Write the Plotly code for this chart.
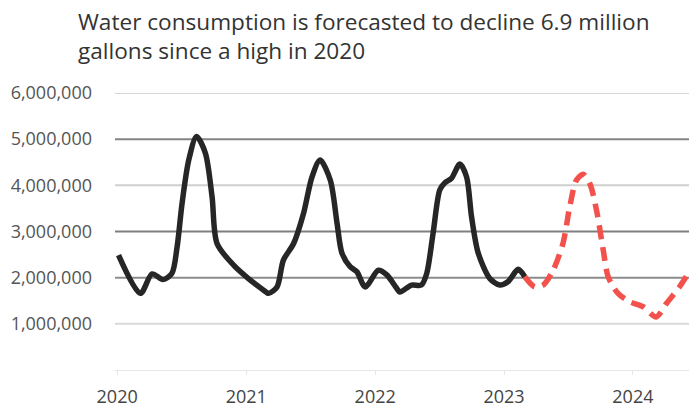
import plotly.graph_objects as go

# Observed water consumption (gallons)
actual_dates = [
    "2020-01-05", "2020-03-07", "2020-04-09", "2020-05-10", "2020-06-04",
    "2020-06-19", "2020-07-03", "2020-07-22", "2020-08-13", "2020-09-07",
    "2020-09-26", "2020-10-10", "2020-11-26", "2021-01-07", "2021-02-19",
    "2021-03-05", "2021-03-29", "2021-04-16", "2021-05-15", "2021-06-12",
    "2021-07-06", "2021-07-29", "2021-08-27", "2021-09-15", "2021-09-29",
    "2021-10-22", "2021-11-10", "2021-12-04", "2022-01-10", "2022-02-03",
    "2022-03-03", "2022-03-12", "2022-04-14", "2022-05-12", "2022-05-27",
    "2022-06-14", "2022-07-03", "2022-07-17", "2022-08-05", "2022-08-29",
    "2022-09-17", "2022-10-01", "2022-10-20", "2022-11-22", "2022-12-20",
    "2023-01-12", "2023-02-10", "2023-03-01",
]
actual_values = [
    2490000, 1660000, 2080000, 1960000, 2090000,
    2670000, 3610000, 4550000, 5060000, 4700000,
    3750000, 2740000, 2270000, 1980000, 1730000,
    1660000, 1800000, 2380000, 2740000, 3390000,
    4180000, 4550000, 4110000, 3180000, 2530000,
    2240000, 2130000, 1800000, 2160000, 2060000,
    1770000, 1690000, 1840000, 1840000, 2090000,
    2960000, 3900000, 4050000, 4150000, 4460000,
    4180000, 3320000, 2530000, 1980000, 1840000,
    1910000, 2180000, 2020000,
]

# Forecast continuing from the last observation
forecast_dates = [
    "2023-03-01", "2023-03-29", "2023-04-22", "2023-05-20", "2023-06-17",
    "2023-07-06", "2023-07-25", "2023-08-13", "2023-09-01", "2023-09-20",
    "2023-10-09", "2023-10-23", "2023-11-20", "2023-12-23", "2024-01-30",
    "2024-03-07", "2024-04-05", "2024-05-12", "2024-06-06",
]
forecast_values = [
    2020000, 1800000, 1840000, 2160000, 2740000,
    3530000, 4110000, 4240000, 4040000, 3460000,
    2600000, 2020000, 1660000, 1480000, 1370000,
    1150000, 1440000, 1800000, 2090000,
]

y_ticks = [1000000, 2000000, 3000000, 4000000, 5000000, 6000000]
y_tick_text = ["1,000,000", "2,000,000", "3,000,000", "4,000,000", "5,000,000", "6,000,000"]
x_ticks = ["2020-01-01", "2021-01-01", "2022-01-01", "2023-01-01", "2024-01-01"]
x_tick_text = ["2020", "2021", "2022", "2023", "2024"]

title_text = "Water consumption is forecasted to decline 6.9 million<br>gallons since a high in 2020"

# Per-gridline shade (1M .. 6M)
grid_colors = ["#d9d9d9", "#8c8c8c", "#7f7f7f", "#cfcfcf", "#858585", "#d6d6d6"]

fig = go.Figure()

for val, col in zip(y_ticks, grid_colors):
    fig.add_shape(
        type="line", xref="paper", x0=0, x1=1, yref="y", y0=val, y1=val,
        line=dict(color=col, width=2), layer="below",
    )

fig.add_trace(go.Scatter(
    x=actual_dates, y=actual_values, mode="lines",
    line=dict(color="#262626", width=5.5, shape="spline", smoothing=0.8),
    showlegend=False, hoverinfo="skip",
))
fig.add_trace(go.Scatter(
    x=forecast_dates, y=forecast_values, mode="lines",
    line=dict(color="#f2514c", width=5.5, shape="spline", smoothing=0.8, dash="14px,8px"),
    showlegend=False, hoverinfo="skip",
))

fig.add_annotation(
    text=title_text, xref="paper", x=0, xanchor="left", xshift=-39,
    yref="paper", y=1, yanchor="top", yshift=89,
    showarrow=False, align="left",
    font=dict(family="Open Sans", size=22.6, color="#333333"),
)

fig.update_layout(
    width=689, height=415,
    margin=dict(l=115, r=0, t=93, b=45),
    paper_bgcolor="white", plot_bgcolor="white",
    font=dict(family="Open Sans", color="#555555"),
    xaxis=dict(
        type="date",
        range=["2019-12-26", "2024-06-08"],
        tickvals=x_ticks, ticktext=x_tick_text,
        tickfont=dict(size=18, color="#444444"),
        showgrid=False, zeroline=False,
        showline=True, linecolor="#e6e6e6", linewidth=1,
        ticks="outside", ticklen=4, tickcolor="#e6e6e6",
        ticklabelstandoff=6,
    ),
    yaxis=dict(
        range=[0, 6000000],
        tickvals=y_ticks, ticktext=y_tick_text,
        tickfont=dict(size=18, color="#555555"),
        showgrid=False, zeroline=False, showline=False,
        ticklabelstandoff=22,
    ),
)

fig.write_html("out.html")
